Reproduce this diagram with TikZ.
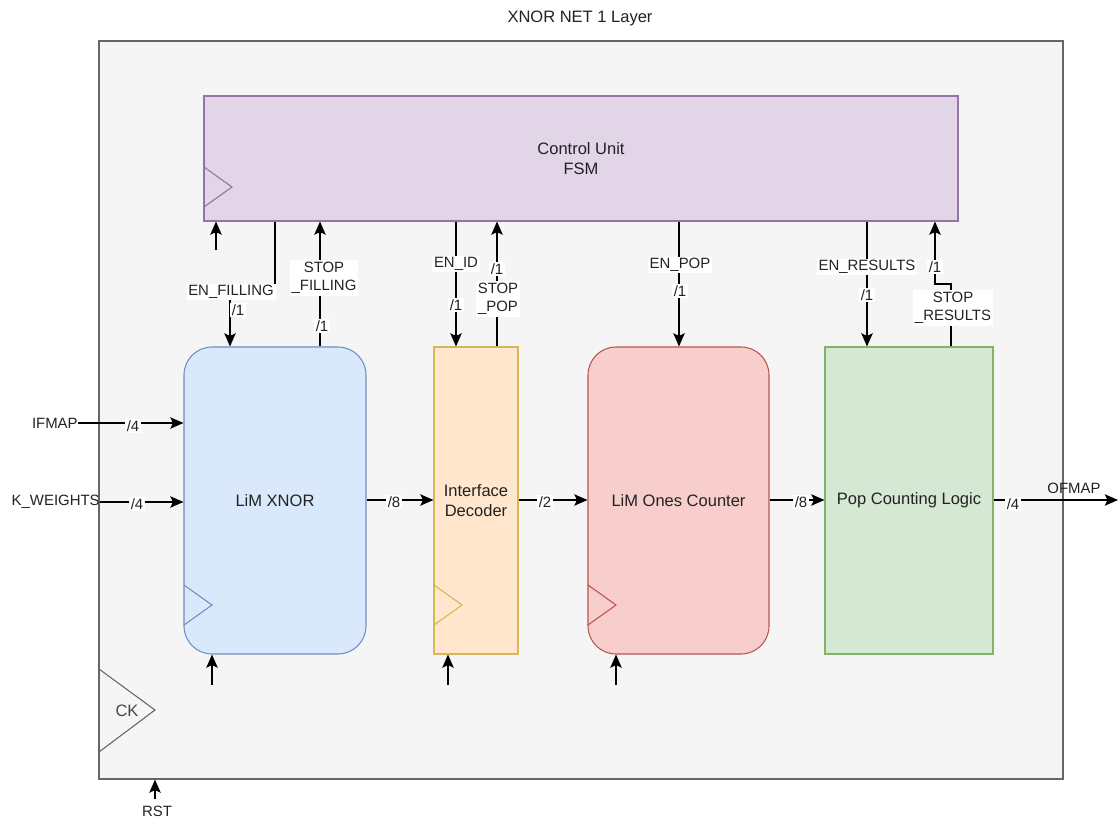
\documentclass[tikz,border=0pt]{standalone}
\usepackage{fontspec}
\setmainfont{Liberation Sans}
\usetikzlibrary{arrows.meta,fit}
\definecolor{outerfill}{HTML}{F5F5F5}
\definecolor{outerline}{HTML}{666666}
\definecolor{cufill}{HTML}{E1D5E7}
\definecolor{culine}{HTML}{9673A6}
\definecolor{xfill}{HTML}{DAE8FC}
\definecolor{xline}{HTML}{6C8EBF}
\definecolor{dfill}{HTML}{FFE6CC}
\definecolor{dline}{HTML}{D6B656}
\definecolor{ofill}{HTML}{F8CECC}
\definecolor{oline}{HTML}{B85450}
\definecolor{pfill}{HTML}{D5E8D4}
\definecolor{pline}{HTML}{82B366}
\definecolor{txt}{HTML}{222222}
\begin{document}
\begin{tikzpicture}[x=0.02cm,y=-0.02cm,
  blk/.style={draw, line width=0.6pt, inner sep=0pt},
  btxt/.style={label={[font=\fontsize{9.4}{11.5}\selectfont, text=txt, align=center]center:#1}},
  lbl/.style={fill=white, inner sep=1pt, font=\fontsize{8.5}{10.5}\selectfont, text=txt, align=center},
  arr/.style={draw=black, line width=0.75pt, -{Stealth[length=7.5pt,width=6.5pt,inset=1.5pt]}},
  clk/.style={line width=0.6pt}]
\useasboundingbox (0,0) rectangle (1118,821);
\node[font=\fontsize{9.4}{11.5}\selectfont, text=txt] (title) at (580,18) {XNOR NET 1 Layer};
\node[blk, fill=outerfill, draw=outerline, fit={(99,41) (1063,779)}] (outer) {};
% CK
\draw[outerline, clk] (99,669) -- (155,710) -- (99,752);
\node[font=\fontsize{9.4}{11.5}\selectfont, text=outerline!70!black] (ck) at (127,711) {CK};
% blocks
\node[blk, fill=cufill, draw=culine, fit={(204,96) (958,221)}, btxt={Control Unit\\FSM}] (cu) {};
\node[blk, fill=xfill, draw=xline, rounded corners=0.56cm, fit={(184,347) (366,654)}, btxt={LiM XNOR}] (xnor) {};
\node[blk, fill=dfill, draw=dline, fit={(434,347) (518,654)}, btxt={Interface\\Decoder}] (dec) {};
\node[blk, fill=ofill, draw=oline, rounded corners=0.56cm, fit={(588,347) (769,654)}, btxt={LiM Ones Counter}] (ones) {};
\node[blk, fill=pfill, draw=pline, fit={(825,347) (993,654)}, btxt={Pop Counting Logic}] (pop) {};
% clock triangles
\draw[culine, clk] (204,167) -- (232,187) -- (204,207);
\draw[xline, clk] (184,585) -- (212,605) -- (184,625);
\draw[dline, clk] (434,585) -- (462,605) -- (434,625);
\draw[oline, clk] (588,585) -- (616,605) -- (588,625);
% bottom arrows
\coordinate (r1) at (216,250);
\coordinate (r2) at (212,685);
\coordinate (r3) at (448,685);
\coordinate (r4) at (616,685);
\coordinate (rst) at (155,799);
\draw[arr] (r1) -- (cu.south -| r1);
\draw[arr] (r2) -- (xnor.south -| r2);
\draw[arr] (r3) -- (dec.south -| r3);
\draw[arr] (r4) -- (ones.south -| r4);
\draw[arr] (rst) -- (outer.south -| rst);
\node[font=\fontsize{8.5}{10.5}\selectfont, text=txt] (rstl) at (157,811) {RST};
% control connectors
\draw[arr] (cu.south -| 275,0) |- (230,290) -- (xnor.north -| 230,0);
\draw[arr] (xnor.north -| 320,0) -- (cu.south -| 320,0);
\draw[arr] (cu.south -| 456,0) -- (dec.north -| 456,0);
\draw[arr] (dec.north -| 497,0) -- (cu.south -| 497,0);
\draw[arr] (cu.south -| 679,0) -- (ones.north -| 679,0);
\draw[arr] (cu.south -| 867,0) -- (pop.north -| 867,0);
\draw[arr] (pop.north -| 951,0) -- (951,284) -| (cu.south -| 935,0);
% data connectors
\coordinate (ifm) at (78,423);
\coordinate (kw) at (100,502);
\coordinate (ofm) at (1118,500);
\node[anchor=east, inner sep=0pt, font=\fontsize{8.5}{10.5}\selectfont, text=txt] (ifml) at (ifm) {IFMAP};
\node[anchor=east, inner sep=0pt, font=\fontsize{8.5}{10.5}\selectfont, text=txt] (kwl) at (kw) {K\_WEIGHTS};
\draw[arr] (ifml.east) -- (xnor.west |- ifm);
\draw[arr] (kwl.east) -- (xnor.west |- kw);
\draw[arr] (xnor.east |- 0,500) -- (dec.west |- 0,500);
\draw[arr] (dec.east |- 0,500) -- (ones.west |- 0,500);
\draw[arr] (ones.east |- 0,500) -- (pop.west |- 0,500);
\draw[arr] (pop.east |- 0,500) -- (ofm);
% labels
\node[lbl] (l1) at (231,292) {EN\_FILLING};
\node[lbl] (l1b) at (238,310) {/1};
\node[lbl] (l2) at (324,278) {STOP\\\_FILLING};
\node[lbl] (l2b) at (322,326) {/1};
\node[lbl] (l3) at (456,264) {EN\_ID};
\node[lbl] (l3b) at (456,305) {/1};
\node[lbl] (l4b) at (497,269) {/1};
\node[lbl] (l4) at (498,299) {STOP\\\_POP};
\node[lbl] (l5) at (680,265) {EN\_POP};
\node[lbl] (l5b) at (680,291) {/1};
\node[lbl] (l6) at (867,267) {EN\_RESULTS};
\node[lbl] (l6b) at (867,295) {/1};
\node[lbl] (l7b) at (935,267) {/1};
\node[lbl] (l7) at (953,308) {STOP\\\_RESULTS};
\node[lbl] (d1) at (133,426) {/4};
\node[lbl] (d2) at (137,504) {/4};
\node[lbl] (d3) at (394,502) {/8};
\node[lbl] (d4) at (545,502) {/2};
\node[lbl] (d5) at (801,502) {/8};
\node[lbl] (d6) at (1013,504) {/4};
\node[font=\fontsize{8.5}{10.5}\selectfont, text=txt] (ofml) at (1074,488) {OFMAP};
\end{tikzpicture}
\end{document}
